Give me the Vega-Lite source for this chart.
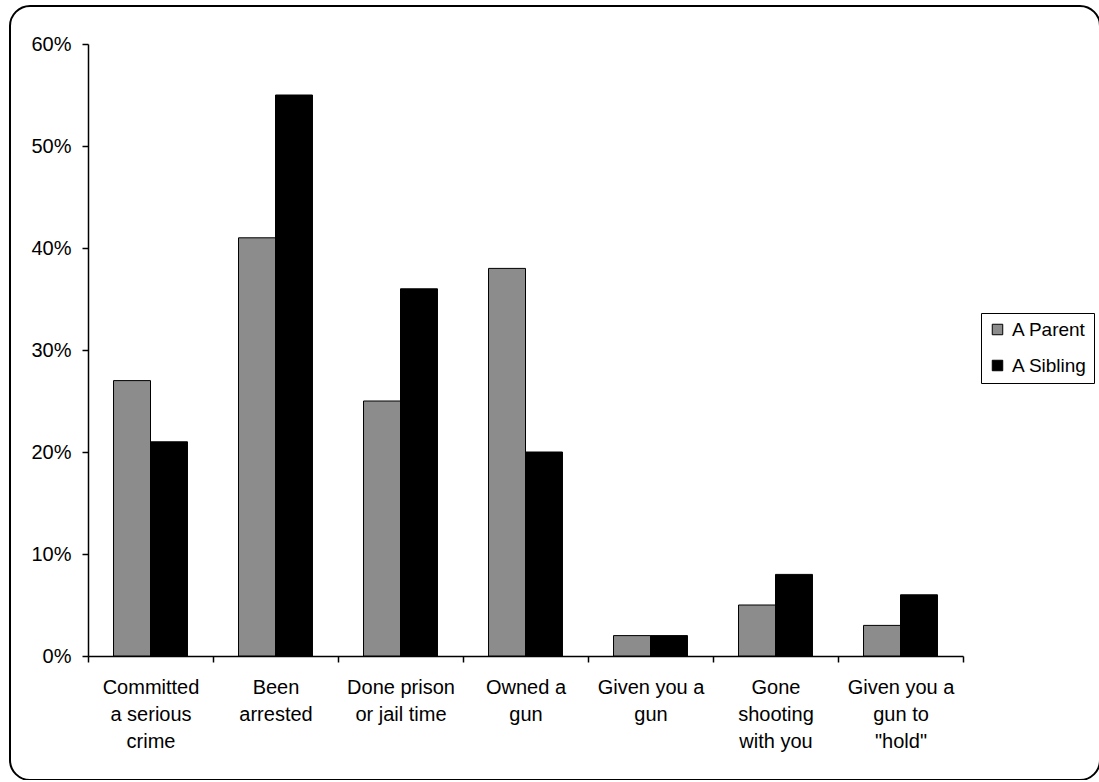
{
  "$schema": "https://vega.github.io/schema/vega-lite/v6.json",
  "width": 1090,
  "height": 774,
  "padding": {"left": 10, "top": 6, "right": 0, "bottom": 0},
  "autosize": {"type": "none"},
  "background": "white",
  "config": {
    "font": "Liberation Sans",
    "view": {"stroke": "#000000", "strokeWidth": 2, "cornerRadius": 20, "fill": "white"},
    "axis": {"labelFont": "Liberation Sans", "labelColor": "#000000", "domainColor": "#000000", "tickColor": "#000000", "grid": false, "title": null}
  },
  "data": {
    "values": [
      {"activity": "Committed|a serious|crime", "who": "A Parent", "share": 0.27},
      {"activity": "Committed|a serious|crime", "who": "A Sibling", "share": 0.21},
      {"activity": "Been|arrested", "who": "A Parent", "share": 0.41},
      {"activity": "Been|arrested", "who": "A Sibling", "share": 0.55},
      {"activity": "Done prison|or jail time", "who": "A Parent", "share": 0.25},
      {"activity": "Done prison|or jail time", "who": "A Sibling", "share": 0.36},
      {"activity": "Owned a|gun", "who": "A Parent", "share": 0.38},
      {"activity": "Owned a|gun", "who": "A Sibling", "share": 0.20},
      {"activity": "Given you a|gun", "who": "A Parent", "share": 0.02},
      {"activity": "Given you a|gun", "who": "A Sibling", "share": 0.02},
      {"activity": "Gone|shooting|with you", "who": "A Parent", "share": 0.05},
      {"activity": "Gone|shooting|with you", "who": "A Sibling", "share": 0.08},
      {"activity": "Given you a|gun to|\"hold\"", "who": "A Parent", "share": 0.03},
      {"activity": "Given you a|gun to|\"hold\"", "who": "A Sibling", "share": 0.06}
    ]
  },
  "mark": {"type": "bar", "stroke": "#000000", "strokeWidth": 1},
  "encoding": {
    "x": {
      "field": "activity",
      "type": "nominal",
      "sort": null,
      "scale": {"range": [78, 953], "paddingInner": 0, "paddingOuter": 0},
      "axis": {
        "offset": -124,
        "labelAngle": 0,
        "labelFontSize": 20,
        "labelLineHeight": 27,
        "labelPadding": 15,
        "tickSize": 6,
        "tickBand": "extent",
        "labelExpr": "split(datum.label, '|')",
        "domainWidth": 1.5,
        "tickWidth": 1.5
      }
    },
    "xOffset": {
      "field": "who",
      "type": "nominal",
      "scale": {"paddingInner": 0, "paddingOuter": 0.69}
    },
    "y": {
      "field": "share",
      "type": "quantitative",
      "scale": {"domain": [0, 0.6], "range": [650, 38], "nice": false},
      "axis": {
        "offset": -78,
        "values": [0, 0.1, 0.2, 0.3, 0.4, 0.5, 0.6],
        "format": ".0%",
        "labelFontSize": 20,
        "labelPadding": 11,
        "tickSize": 6,
        "domainWidth": 1.5,
        "tickWidth": 1.5
      }
    },
    "fill": {
      "field": "who",
      "type": "nominal",
      "scale": {"domain": ["A Parent", "A Sibling"], "range": ["#8c8c8c", "#000000"]},
      "legend": {
        "title": null,
        "orient": "none",
        "legendX": 971,
        "legendY": 307,
        "padding": 7,
        "strokeColor": "#000000",
        "fillColor": "white",
        "symbolType": "square",
        "symbolSize": 110,
        "symbolStrokeColor": "#000000",
        "symbolStrokeWidth": 1,
        "labelFontSize": 19,
        "labelFont": "Liberation Sans",
        "labelColor": "#000000",
        "labelOffset": 5,
        "rowPadding": 16
      }
    }
  }
}
